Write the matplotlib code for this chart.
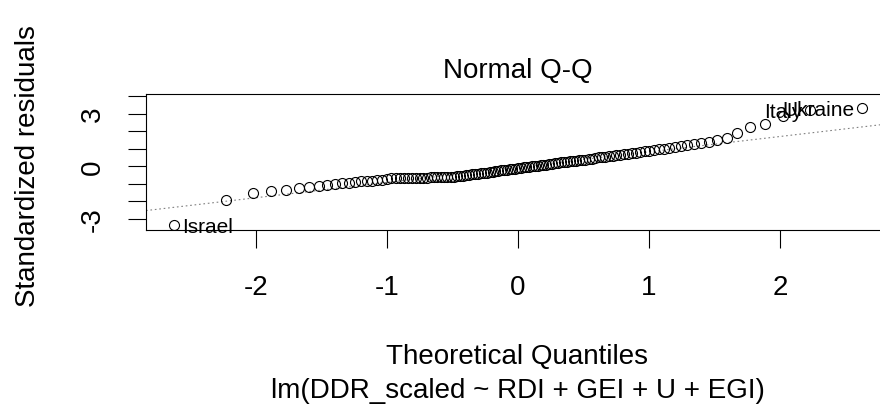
import matplotlib
matplotlib.use('Agg')
import matplotlib.pyplot as plt
import numpy as np
from statistics import NormalDist

# sorted standardized residuals
residuals = [
    -3.35, -1.92, -1.52, -1.43, -1.37, -1.28, -1.20, -1.13, -1.07, -1.02,
    -0.98, -0.94, -0.90, -0.87, -0.85, -0.83, -0.81, -0.79, -0.72, -0.70,
    -0.69, -0.69, -0.68, -0.68, -0.67, -0.67, -0.66, -0.66, -0.66, -0.65,
    -0.65, -0.64, -0.64, -0.63, -0.62, -0.61, -0.60, -0.58, -0.56, -0.54,
    -0.52, -0.50, -0.48, -0.46, -0.44, -0.42, -0.40, -0.38, -0.36, -0.34,
    -0.31, -0.28, -0.25, -0.22, -0.20, -0.18, -0.16, -0.14, -0.12, -0.10,
    -0.08, -0.06, -0.04, -0.02, 0.00, 0.02, 0.04, 0.06, 0.08, 0.10,
    0.13, 0.16, 0.19, 0.21, 0.23, 0.25, 0.27, 0.29, 0.31, 0.33,
    0.35, 0.37, 0.40, 0.43, 0.46, 0.49, 0.51, 0.53, 0.56, 0.59,
    0.62, 0.65, 0.68, 0.71, 0.74, 0.77, 0.80, 0.84, 0.88, 0.92,
    0.96, 1.00, 1.04, 1.08, 1.13, 1.18, 1.24, 1.32, 1.40, 1.50,
    1.63, 1.88, 2.25, 2.42, 2.86, 3.22, 3.33,
]
# labelled points (index in sorted order)
point_labels = {0: 'Israel', 115: 'Italy', 116: 'Ukraine'}

x_ticks = [-2, -1, 0, 1, 2]
y_ticks = [-3, -2, -1, 0, 1, 2, 3, 4]
y_ticklabels = ['-3', '', '', '0', '', '', '3', '']

title = 'Normal Q-Q'
x_label = 'Theoretical Quantiles'
sub_caption = 'lm(DDR_scaled ~ RDI + GEI + U + EGI)'
y_label = 'Standardized residuals'

plt.rcParams['font.family'] = ['Liberation Sans', 'DejaVu Sans']

res = np.array(residuals)
n = len(res)
nd = NormalDist()
probs = (np.arange(1, n + 1) - 0.5) / n
theo = np.array([nd.inv_cdf(p) for p in probs])

# qqline through the quartiles
yq = np.quantile(res, [0.25, 0.75])
xq = np.array([nd.inv_cdf(0.25), nd.inv_cdf(0.75)])
slope = (yq[1] - yq[0]) / (xq[1] - xq[0])
intercept = yq[0] - slope * xq[0]

fig = plt.figure(figsize=(8.8, 4.06), dpi=100)
ax = fig.add_axes([146 / 880, 1 - 230.7 / 406, 0.8455, 135.7 / 406])

ax.plot(theo, res, 'o', mfc='none', mec='black', ms=7.2, mew=0.8, zorder=3)
ax.axline((0, intercept), slope=slope, color='#808080', lw=0.8,
          ls=(0, (1.5, 2.5)), zorder=2)

xr = theo.max() - theo.min()
ax.set_xlim(theo.min() - 0.04 * xr, theo.max() + 0.04 * xr)
ylo, yhi = res.min(), res.max()
yhi = yhi + 0.075 * (yhi - ylo)
yr = yhi - ylo
ax.set_ylim(ylo - 0.04 * yr, yhi + 0.04 * yr)

for i, name in point_labels.items():
    if theo[i] > 0:
        ax.annotate(name, (theo[i], res[i]), xytext=(-6, -5.2),
                    textcoords='offset points', ha='right', va='baseline',
                    fontsize=15, zorder=4)
    else:
        ax.annotate(name, (theo[i], res[i]), xytext=(6, -5.2),
                    textcoords='offset points', ha='left', va='baseline',
                    fontsize=15, zorder=4, annotation_clip=False)

ax.set_xticks(x_ticks)
ax.set_xticklabels([str(t) for t in x_ticks])
ax.set_yticks(y_ticks)
ax.set_yticklabels(y_ticklabels, rotation=90, va='center')
ax.tick_params(axis='both', direction='out', length=13, width=0.8,
               labelsize=20, colors='black')
ax.tick_params(axis='x', pad=19)
ax.tick_params(axis='y', pad=16)
for sp in ax.spines.values():
    sp.set_linewidth(0.8)
    sp.set_color('black')

cx = 517.5 / 880
fig.text(cx, 1 - 78.3 / 406, title, ha='center', va='baseline', fontsize=20)
fig.text(cx, 1 - 364.3 / 406, x_label, ha='center', va='baseline', fontsize=20)
fig.text(cx, 1 - 398.5 / 406, sub_caption, ha='center', va='baseline', fontsize=20)
fig.text(41 / 880, 1 - 166 / 406, y_label, rotation=90, ha='right',
         va='center', fontsize=20)

fig.savefig('out.png', dpi=100)
